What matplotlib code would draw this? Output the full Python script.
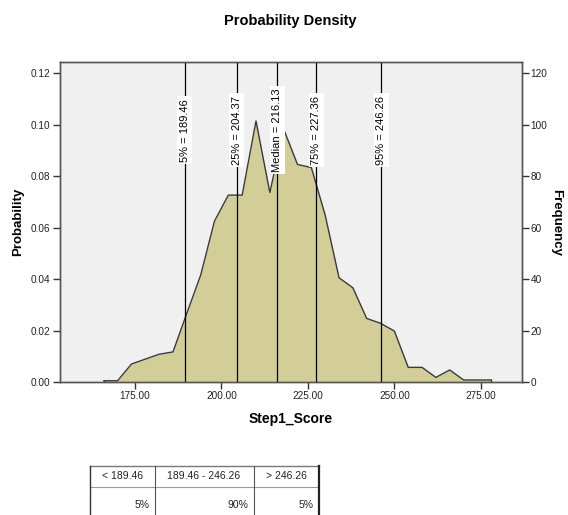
import matplotlib
matplotlib.use("Agg")
import matplotlib.pyplot as plt
from matplotlib.ticker import FormatStrFormatter, MultipleLocator

plt.rcParams['font.family'] = ['Liberation Sans', 'DejaVu Sans']

# ---- data ----
score_x = [166, 170, 174, 178, 182, 186, 190, 194, 198, 202, 206, 210, 214, 218,
           222, 226, 230, 234, 238, 242, 246, 250, 254, 258, 262, 266, 270, 274, 278]
density = [0.0006, 0.0006, 0.0071, 0.0090, 0.0109, 0.0118, 0.0268, 0.0416, 0.0626,
           0.0727, 0.0727, 0.1015, 0.0737, 0.0983, 0.0846, 0.0834, 0.0649, 0.0406,
           0.0367, 0.0248, 0.0229, 0.0199, 0.0058, 0.0058, 0.0019, 0.0048, 0.0009,
           0.0009, 0.0009]
pct_labels = ["5%", "25%", "Median", "75%", "95%"]
pct_values = [189.46, 204.37, 216.13, 227.36, 246.26]
x_ticks = [175, 200, 225, 250, 275]
table_header = ["< 189.46", "189.46 - 246.26", "> 246.26"]
table_row = ["5%", "90%", "5%"]
freq_scale = 1000  # frequency = density * freq_scale

W, H = 568, 515
fig = plt.figure(figsize=(W / 100, H / 100), dpi=100)
fig.patch.set_facecolor('white')

ax = fig.add_axes([59.5 / W, 1 - 382.3 / H, (521.7 - 59.5) / W, (382.3 - 62) / H])
ax.set_facecolor('#F0F0F0')
ylim_top = 0.1244
ax.set_xlim(153.2, 286.8)
ax.set_ylim(0, ylim_top)

ax.fill_between(score_x, density, 0, color='#D3CE97', zorder=2, linewidth=0)
ax.plot(score_x, density, color='#3a3a3a', lw=1.0, zorder=3)
ax.plot([score_x[0], score_x[0]], [0, density[0]], color='#3a3a3a', lw=1.0, zorder=3)
ax.plot([score_x[-1], score_x[-1]], [0, density[-1]], color='#3a3a3a', lw=1.0, zorder=3)

for lab, v in zip(pct_labels, pct_values):
    ax.axvline(v, color='black', lw=0.9, zorder=4)
    ax.text(v, 0.0979, f"{lab} = {v:.2f}", rotation=90, ha='center', va='center',
            fontsize=8, zorder=5,
            bbox=dict(boxstyle='square,pad=0.22', facecolor='white', edgecolor='none'))

ax.set_xticks(x_ticks)
ax.xaxis.set_major_formatter(FormatStrFormatter('%.2f'))
ax.yaxis.set_major_locator(MultipleLocator(0.02))
ax.yaxis.set_major_formatter(FormatStrFormatter('%.2f'))
ax.tick_params(axis='both', direction='out', length=5, width=1, color='#333333',
               labelsize=7.2, pad=1.5, labelcolor='#222222')
for s in ax.spines.values():
    s.set_color('#555555')
    s.set_linewidth(1.0)

ax.set_xlabel("Step1_Score", fontsize=10, fontweight='bold', labelpad=8)
ax.set_ylabel("Probability", fontsize=9.5, fontweight='bold', va='center')
ax.yaxis.set_label_coords((18 - 59.5) / (521.7 - 59.5), 0.5)

ax2 = ax.twinx()
ax2.set_ylim(0, ylim_top * freq_scale)
ax2.yaxis.set_major_locator(MultipleLocator(20))
ax2.tick_params(axis='y', direction='out', length=5, width=1, color='#333333',
                labelsize=7.2, pad=1.5, labelcolor='#222222')
for s in ax2.spines.values():
    s.set_color('#555555')
    s.set_linewidth(1.0)
ax2.set_ylabel("Frequency", fontsize=9.5, fontweight='bold', rotation=270,
               va='center')
ax2.yaxis.set_label_coords((556 - 59.5) / (521.7 - 59.5), 0.5)

fig.text(290 / W, 1 - 21 / H, "Probability Density", ha='center', va='center',
         fontsize=10.5, fontweight='bold')

# ---- table ----
tx0, tx1 = 90, 319
col_edges = [90, 154.5, 253.5, 319]
ty0, ty_mid, ty1 = 466, 486.5, 530
tax = fig.add_axes([0, 0, 1, 1])
tax.set_xlim(0, W)
tax.set_ylim(H, 0)
tax.axis('off')
tax.plot([tx0, tx1], [ty0, ty0], color='#777777', lw=1.0)
tax.plot([tx0, tx1], [ty_mid, ty_mid], color='#999999', lw=0.8)
tax.plot([tx0, tx0], [ty0, ty1], color='#333333', lw=1.0)
tax.plot([tx1, tx1], [ty0, ty1], color='#222222', lw=1.6)
for xe in col_edges[1:-1]:
    tax.plot([xe, xe], [ty0, ty1], color='#555555', lw=0.8)
for i, (h, r) in enumerate(zip(table_header, table_row)):
    cx = (col_edges[i] + col_edges[i + 1]) / 2
    tax.text(cx, (ty0 + ty_mid) / 2, h, ha='center', va='center', fontsize=7.5,
             color='#222222')
    tax.text(col_edges[i + 1] - 5, 505, r, ha='right', va='center', fontsize=7.5,
             color='#222222')

fig.savefig("out.png", dpi=100)
